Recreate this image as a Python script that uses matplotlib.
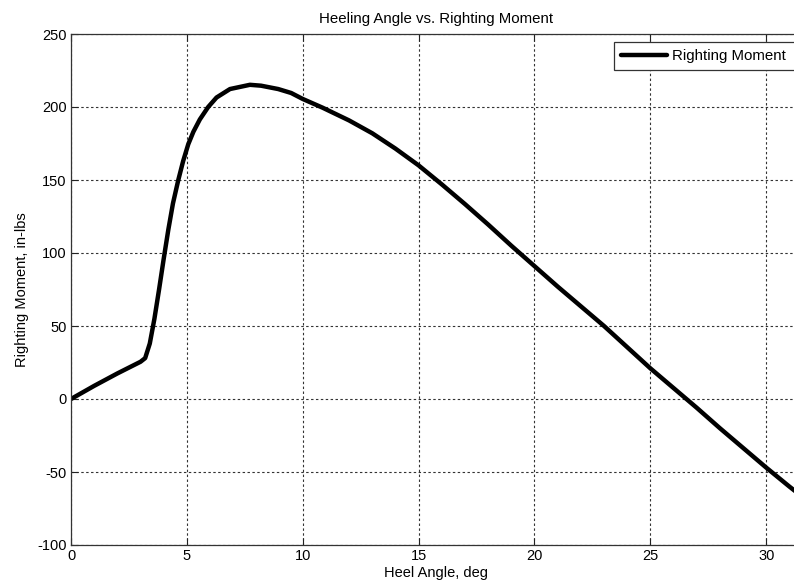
import matplotlib
matplotlib.use("Agg")
import matplotlib.pyplot as plt

# heel angle (deg) and righting moment (in-lbs)
heel_angle = [0, 1, 2, 3, 3.2, 3.4, 3.6, 3.8, 4.0, 4.2, 4.4, 4.63, 4.84, 5.06,
              5.28, 5.56, 5.92, 6.28, 6.86, 7.72, 8.2, 8.94, 9.5, 10, 10.86,
              12, 13, 14, 15, 16, 17, 18, 19, 20, 21, 22, 23, 24, 25, 26, 27,
              28, 29, 30, 31, 31.6]
righting_moment = [0, 9, 17.5, 25.5, 28, 38, 55, 75, 96, 116, 134, 150,
                   163, 174.5, 183, 191.5, 200, 206.5, 212.3, 215.2, 214.6,
                   212.3, 209.6, 205.5, 199.5, 190.8, 182, 171.5, 160, 147, 133.5,
                   119.5, 105, 91, 77, 63.5, 50, 35.5, 21, 7.5, -6, -20, -33.5,
                   -47, -60, -67.5]

xticks = [0, 5, 10, 15, 20, 25, 30]
yticks = [-100, -50, 0, 50, 100, 150, 200, 250]

plt.rcParams['font.family'] = ['Liberation Sans', 'DejaVu Sans']
plt.rcParams['axes.unicode_minus'] = False

W, H = 794, 588
fig = plt.figure(figsize=(W / 100, H / 100), dpi=100)
# axes run past the right edge of the picture, as in the original
ax = fig.add_axes([71 / W, (H - 545) / H, 730 / W, 511 / H])

ax.plot(heel_angle, righting_moment, color='k', linewidth=3.2,
        solid_capstyle='round', solid_joinstyle='round', label='Righting Moment')

ax.set_xlim(0, 31.5)
ax.set_ylim(-100, 250)
ax.set_xticks(xticks)
ax.set_yticks(yticks)
ax.grid(True, color='#333333', linestyle=(0, (2.2, 2.2)), linewidth=0.8)
ax.tick_params(direction='in', length=5, width=0.8, top=True, right=True,
               labelsize=10.5, colors='#222222', labelcolor='k', pad=3)
for s in ax.spines.values():
    s.set_color('#333333')
    s.set_linewidth(0.9)

ax.set_title('Heeling Angle vs. Righting Moment', fontsize=10.8, pad=8)
ax.set_xlabel('Heel Angle, deg', fontsize=10.5, labelpad=2)
ax.set_ylabel('Righting Moment, in-lbs', fontsize=10.5, labelpad=6)

# legend box is cut by the right edge of the picture
leg = ax.legend(loc='upper left', bbox_to_anchor=(614 / W, 1 - 70 / H, 260 / W, 28 / H),
                bbox_transform=fig.transFigure, mode='expand', fontsize=10.8,
                fancybox=False, framealpha=1, edgecolor='#333333',
                handlelength=3.1, borderpad=0.45, handletextpad=0.35,
                borderaxespad=0)
leg.get_frame().set_linewidth(0.9)

fig.savefig('out.png', dpi=100)
